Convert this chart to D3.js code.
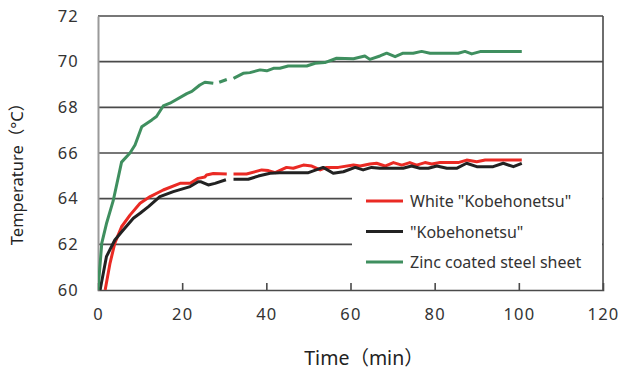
<!DOCTYPE html>
<html><head><meta charset="utf-8">
<script src="https://cdn.jsdelivr.net/npm/d3@7"></script>
<style>body{margin:0;background:#fff}svg{display:block}</style>
</head><body><svg id="c" width="619" height="370"></svg>
<script>
const xTicks = [0, 20, 40, 60, 80, 100, 120];
const yTicks = [60, 62, 64, 66, 68, 70, 72];
const seriesNames = ['White "Kobehonetsu"', '"Kobehonetsu"', 'Zinc coated steel sheet'];
const seriesColors = ["#ea2a24", "#222222", "#3f8f5f"];

// [time (min), temperature (°C)]; null = gap in the trace
const whiteKobe = [[1.7,60.0],[2.85,61.17],[4.0,62.05],[5.6,62.77],[7.6,63.28],[10,63.8],[12.4,64.09],[15.5,64.38],[19.5,64.67],[21.9,64.67],[23.8,64.89],[25.4,64.95],[25.8,65.04],[27.4,65.1],[30.6,65.08],[31.4,null],[32.2,65.08],[35.3,65.08],[38.9,65.26],[40.5,65.23],[42.1,65.14],[44.8,65.37],[46.4,65.33],[48.8,65.47],[50.8,65.43],[52.8,65.26],[54.3,65.37],[57.1,65.37],[60.7,65.47],[62.3,65.43],[64.6,65.52],[66.2,65.55],[68.2,65.43],[70.2,65.58],[72.2,65.47],[74.1,65.58],[75.7,65.47],[77.7,65.58],[79.3,65.52],[81.3,65.58],[85.6,65.58],[87.6,65.69],[90,65.62],[92,65.69],[100.7,65.69]];
const kobe = [[0.5,60.0],[2.0,61.46],[4.0,62.19],[6,62.63],[8.4,63.14],[10,63.36],[12,63.65],[14.7,64.09],[17.9,64.31],[21.9,64.53],[23.8,64.74],[24.5,64.74],[26.2,64.6],[27.8,64.67],[30.4,64.83],[31.4,null],[32.2,64.85],[35.7,64.85],[38.1,64.99],[40.9,65.11],[43.2,65.14],[50,65.14],[53.5,65.37],[55.9,65.11],[58.3,65.18],[61.1,65.37],[63.0,65.26],[65,65.37],[67,65.33],[72.5,65.33],[74.5,65.43],[76.5,65.33],[78.5,65.33],[80.5,65.43],[82.9,65.33],[85.2,65.33],[87.6,65.55],[90,65.4],[93.9,65.4],[96.3,65.55],[98.7,65.4],[100.7,65.55]];
const zinc = [[0,60.0],[0.9,62.05],[2.0,62.9],[3.6,63.9],[5.6,65.6],[7.6,66.0],[8.8,66.35],[10.4,67.15],[12.8,67.45],[13.9,67.6],[15.5,68.06],[17.1,68.18],[21.1,68.6],[22.3,68.7],[24.2,68.98],[25.4,69.1],[27.4,69.05],[28.1,null],[28.8,69.1],[30.6,69.22],[31.3,null],[32.2,69.27],[34.5,69.49],[36.1,69.52],[38.5,69.64],[40.1,69.6],[41.7,69.71],[43.2,69.71],[45.2,69.81],[49.6,69.81],[51.6,69.93],[53.9,69.96],[56.7,70.15],[60.7,70.13],[63.4,70.25],[64.6,70.1],[67,70.25],[68.6,70.37],[70.6,70.22],[72.5,70.37],[74.9,70.37],[76.9,70.45],[78.9,70.37],[85.6,70.37],[87.2,70.45],[88.8,70.34],[90.8,70.44],[100.7,70.44]];
const series = [whiteKobe, kobe, zinc];

const svg = d3.select("#c");
const x = d3.scaleLinear().domain([0, 120]).range([98, 603]);
const y = d3.scaleLinear().domain([60, 72]).range([290, 16]);
const font = "'Noto Sans', 'DejaVu Sans', sans-serif";

// gridlines
yTicks.filter(v => v > 60).forEach(v => {
  svg.append("line").attr("x1", x(0)).attr("x2", x(120)).attr("y1", y(v)).attr("y2", y(v))
    .attr("stroke", "#4a4a4a").attr("stroke-width", 1.6);
});
// right border
svg.append("line").attr("x1", x(120)).attr("x2", x(120)).attr("y1", y(72)).attr("y2", y(60))
  .attr("stroke", "#4a4a4a").attr("stroke-width", 1.6);

// x axis
const xAxis = d3.axisBottom(x).tickValues(xTicks).tickSize(-7).tickPadding(18).tickFormat(d3.format("d"));
const gx = svg.append("g").attr("transform", `translate(0,${y(60)})`).call(xAxis);
gx.select(".domain").attr("stroke", "#4a4a4a").attr("stroke-width", 1.6);
gx.selectAll(".tick line").attr("stroke", "#4a4a4a").attr("stroke-width", 1.6)
  .filter(d => d === 0 || d === 120).remove();
gx.selectAll("text").attr("font-family", font).attr("font-size", 16.5).attr("fill", "#333").attr("letter-spacing", 1.2);

// y axis
const yAxis = d3.axisLeft(y).tickValues(yTicks).tickSize(0).tickPadding(19).tickFormat(d3.format("d"));
const gy = svg.append("g").attr("transform", `translate(${x(0)},0)`).call(yAxis);
gy.select(".domain").attr("stroke", "#9a9a9a").attr("stroke-width", 2);
gy.selectAll("text").attr("font-family", font).attr("font-size", 16.5).attr("fill", "#333").attr("letter-spacing", 1.2);

// legend background covering grid
svg.append("rect").attr("x", 352).attr("y", 186).attr("width", x(120) - 353).attr("height", 90).attr("fill", "#fff");

// lines
const line = d3.line().defined(d => d[1] !== null).x(d => x(d[0])).y(d => y(d[1])).curve(d3.curveLinear);
svg.append("clipPath").attr("id", "pc").append("rect")
  .attr("x", x(0)).attr("y", y(72)).attr("width", x(120) - x(0)).attr("height", y(60) - y(72));
series.forEach((s, i) => {
  svg.append("path").attr("d", line(s)).attr("fill", "none").attr("stroke", seriesColors[i])
    .attr("stroke-width", 3).attr("stroke-linejoin", "round").attr("clip-path", "url(#pc)");
});

// legend
seriesNames.forEach((n, i) => {
  const ly = 201 + i * 30.5;
  svg.append("line").attr("x1", 366).attr("x2", 403).attr("y1", ly).attr("y2", ly)
    .attr("stroke", seriesColors[i]).attr("stroke-width", 3);
  svg.append("text").attr("x", 410).attr("y", ly + 6).text(n)
    .attr("font-family", font).attr("font-size", 16).attr("fill", "#333");
});

// axis titles
svg.append("text").attr("x", 364).attr("y", 365).attr("text-anchor", "middle").text("Time（min）")
  .attr("font-family", "'Noto Sans', 'Noto Sans CJK JP', sans-serif").attr("font-size", 19.5).attr("fill", "#222");
svg.append("text").attr("transform", "translate(23,170) rotate(-90)").attr("text-anchor", "middle").text("Temperature（°C）")
  .attr("font-family", "'Noto Sans', 'Noto Sans CJK JP', sans-serif").attr("font-size", 16.5).attr("fill", "#222");
</script></body></html>
